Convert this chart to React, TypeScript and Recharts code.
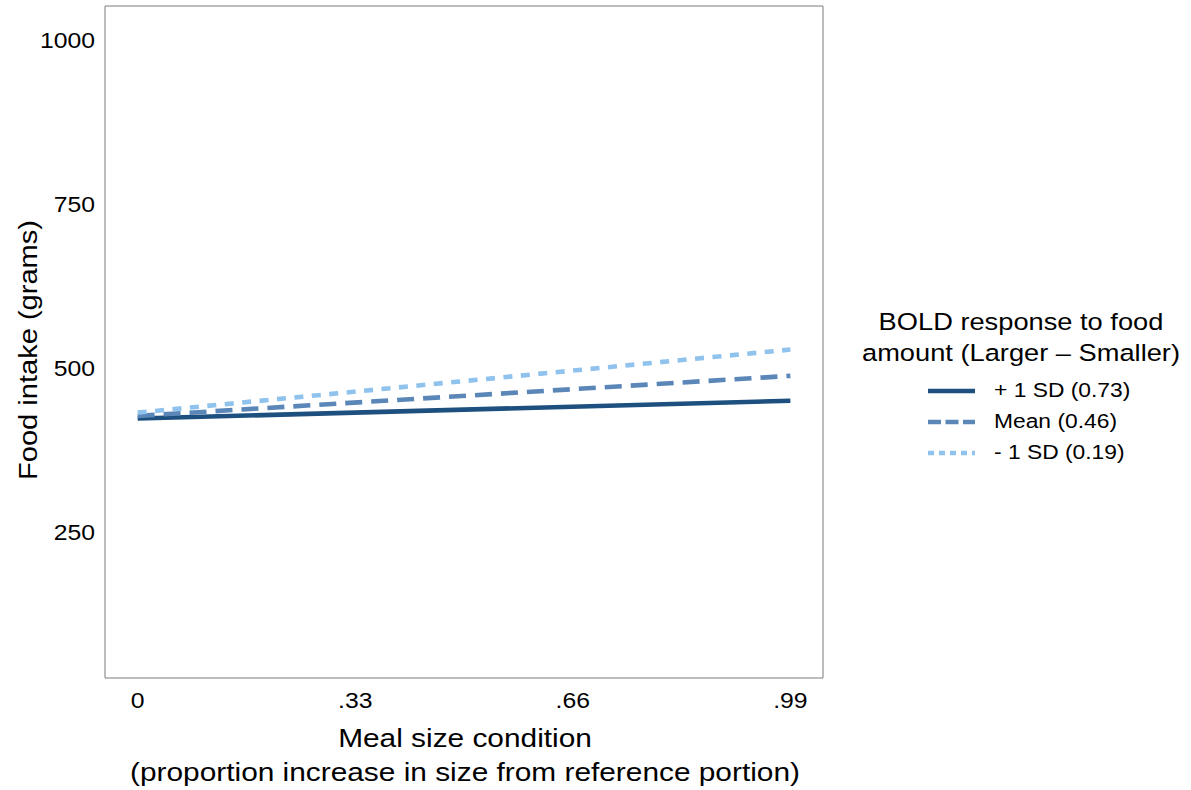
import React from 'react';
import { LineChart, Line, XAxis, YAxis, Legend, ReferenceArea } from 'recharts';

// meal size condition (proportion increase from reference portion)
const mealSize = [0, 0.99];
// predicted food intake (grams) for each BOLD response level
const plusOneSd = [423, 450];
const meanResponse = [427, 488];
const minusOneSd = [432, 528];

const xTicks = [0, 0.33, 0.66, 0.99];
const xTickLabels = ['0', '.33', '.66', '.99'];
const yTicks = [250, 500, 750, 1000];
const yTickLabels = ['250', '500', '750', '1000'];

const seriesKeys = ['plus', 'mean', 'minus'];
const seriesNames = ['+ 1 SD (0.73)', 'Mean (0.46)', '- 1 SD (0.19)'];
const seriesColors = ['#1d4f7f', '#5a87b8', '#8fc2ec'];
const seriesDash = [undefined, '17 9', '9 8.5'];
const legendDash = [undefined, '13 4.5', '6 5'];

const legendTitle = ['BOLD response to food', 'amount (Larger \u2013 Smaller)'];
const xTitle = ['Meal size condition', '(proportion increase in size from reference portion)'];
const yTitle = 'Food intake (grams)';

const xDomain = [-0.0495, 1.0395];
const yDomain = [28, 1051];

const data = mealSize.map((x, i) => ({
  x,
  plus: plusOneSd[i],
  mean: meanResponse[i],
  minus: minusOneSd[i],
}));

const FONT = '"Liberation Sans", Arial, Helvetica, sans-serif';
const STRETCH = 1.17;
const LEGEND_LEFT = 850;
const LEGEND_TOP = 290;

const WideText = ({ x, y, size, anchor = 'middle', rotate = 0, stretch = STRETCH, children }: any) => (
  <text
    transform={`translate(${x} ${y}) rotate(${rotate}) scale(${stretch} 1)`}
    textAnchor={anchor}
    fontSize={size}
    fontFamily={FONT}
    fill="#000"
  >
    {children}
  </text>
);

const XTick = (props: any) => {
  const { x, y, payload } = props;
  const label = xTickLabels[xTicks.indexOf(payload.value)];
  return <WideText x={x} y={y + 19} size={22.5} stretch={1.1}>{label}</WideText>;
};

const YTick = (props: any) => {
  const { x, y, payload } = props;
  const label = yTickLabels[yTicks.indexOf(payload.value)];
  return <WideText x={x} y={y + 8} size={22.5} anchor="end" stretch={1.1}>{label}</WideText>;
};

const XTitle = (props: any) => {
  const { viewBox } = props;
  const cx = viewBox.x + viewBox.width / 2 + 1;
  return (
    <g>
      <WideText x={cx} y={viewBox.y + 69} size={25.5}>{xTitle[0]}</WideText>
      <WideText x={cx} y={viewBox.y + 103} size={25.5}>{xTitle[1]}</WideText>
    </g>
  );
};

const YTitle = (props: any) => {
  const { viewBox } = props;
  return (
    <WideText
      x={viewBox.x + 36.5}
      y={viewBox.y + viewBox.height / 2 + 8}
      size={25.5}
      rotate={-90}
      stretch={1.14}
    >
      {yTitle}
    </WideText>
  );
};

const LegendBox = () => (
  <svg width={340} height={190} style={{ display: 'block' }}>
    {legendTitle.map((t, i) => (
      <WideText key={t} x={1021 - LEGEND_LEFT} y={330 - LEGEND_TOP + i * 31} size={23.3}>
        {t}
      </WideText>
    ))}
    {seriesNames.map((name, i) => (
      <g key={name}>
        <line
          x1={928 - LEGEND_LEFT}
          x2={975 - LEGEND_LEFT}
          y1={391 - LEGEND_TOP + i * 31}
          y2={391 - LEGEND_TOP + i * 31}
          stroke={seriesColors[i]}
          strokeWidth={4.5}
          strokeDasharray={legendDash[i]}
        />
        <WideText x={994 - LEGEND_LEFT} y={397 - LEGEND_TOP + i * 31} size={19.5} anchor="start">
          {name}
        </WideText>
      </g>
    ))}
  </svg>
);

export default function App() {
  return (
    <div style={{ position: 'absolute', left: 0, top: 0 }}>
      <LineChart
        width={1191}
        height={790}
        data={data}
        margin={{ top: 6, right: 368, left: 0, bottom: 0 }}
      >
        <XAxis
          dataKey="x"
          type="number"
          domain={xDomain}
          ticks={xTicks}
          interval={0}
          height={112}
          axisLine={false}
          tickLine={false}
          tickMargin={5}
          tick={<XTick />}
          label={<XTitle />}
        />
        <YAxis
          type="number"
          domain={yDomain}
          ticks={yTicks}
          interval={0}
          allowDataOverflow
          width={105}
          axisLine={false}
          tickLine={false}
          tickMargin={4}
          tick={<YTick />}
          label={<YTitle />}
        />
        <ReferenceArea
          x1={xDomain[0]}
          x2={xDomain[1]}
          y1={yDomain[0]}
          y2={yDomain[1]}
          ifOverflow="visible"
          fill="none"
          fillOpacity={0}
          stroke="#7a7a7a"
          strokeOpacity={1}
          strokeWidth={1}
        />
        {seriesKeys.map((key, i) => (
          <Line
            key={key}
            type="linear"
            dataKey={key}
            name={seriesNames[i]}
            stroke={seriesColors[i]}
            strokeWidth={4.6}
            strokeDasharray={seriesDash[i]}
            dot={false}
            activeDot={false}
            isAnimationActive={false}
          />
        ))}
        <Legend
          layout="vertical"
          align="center"
          verticalAlign="middle"
          wrapperStyle={{ left: LEGEND_LEFT, top: LEGEND_TOP, width: 340 }}
          content={<LegendBox />}
        />
      </LineChart>
    </div>
  );
}
